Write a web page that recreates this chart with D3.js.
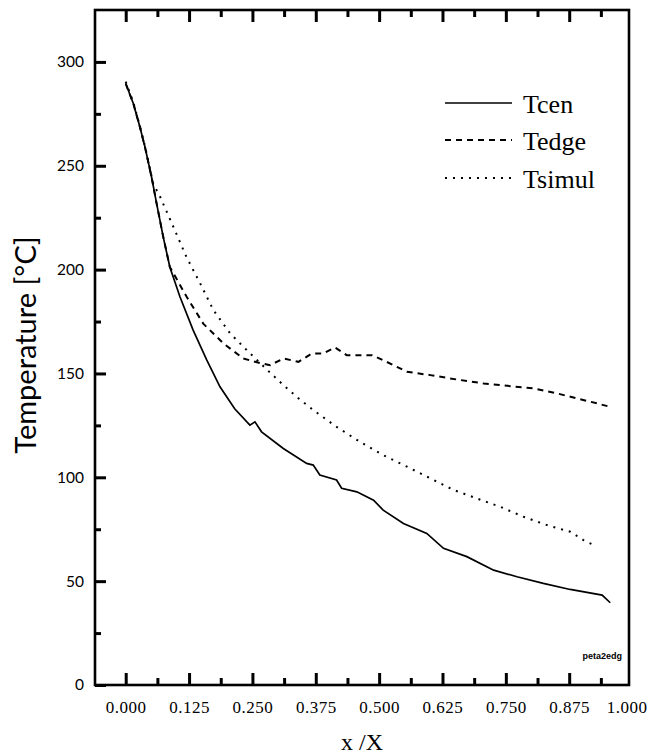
<!DOCTYPE html>
<html>
<head>
<meta charset="utf-8">
<script src="https://cdn.jsdelivr.net/npm/d3@7"></script>
<style>
  html, body { margin: 0; padding: 0; background: #fff; }
  svg { display: block; }
</style>
</head>
<body>
<svg id="chart" width="649" height="755" xmlns="http://www.w3.org/2000/svg"></svg>
<script>
// ---- data ----
const xTicks = [0, 0.125, 0.25, 0.375, 0.5, 0.625, 0.75, 0.875, 1.0];
const xTickLabels = ["0.000", "0.125", "0.250", "0.375", "0.500", "0.625", "0.750", "0.875", "1.000"];
const xMinorTicks = [0.0625, 0.1875, 0.3125, 0.4375, 0.5625, 0.6875, 0.8125, 0.9375];
const yTicks = [0, 50, 100, 150, 200, 250, 300];
const yMinorTicks = [25, 75, 125, 175, 225, 275];

const seriesNames = ["Tcen", "Tedge", "Tsimul"];

const xCen = [0, 0.015, 0.028, 0.038, 0.051, 0.061, 0.074, 0.087, 0.107, 0.133, 0.160, 0.186, 0.215, 0.245, 0.255, 0.268, 0.311, 0.357, 0.370, 0.383, 0.416, 0.426, 0.456, 0.489, 0.508, 0.548, 0.594, 0.627, 0.673, 0.726, 0.772, 0.824, 0.877, 0.940, 0.956];
const tCen = [289.6, 280, 268.7, 259, 244.6, 231.8, 215.8, 201.3, 186.9, 170.9, 156.4, 143.6, 133, 125.1, 126.7, 121.9, 113.9, 106.7, 105.9, 101.1, 98.7, 94.7, 93, 89, 84.2, 77.8, 73, 65.8, 61.8, 55.3, 52.1, 48.9, 46, 43.3, 39.6];

const xEdge = [0, 0.015, 0.028, 0.038, 0.051, 0.061, 0.074, 0.087, 0.120, 0.153, 0.193, 0.232, 0.265, 0.285, 0.311, 0.341, 0.367, 0.390, 0.413, 0.436, 0.462, 0.486, 0.508, 0.535, 0.555, 0.601, 0.653, 0.706, 0.759, 0.805, 0.851, 0.890, 0.930, 0.959];
const tEdge = [289.6, 280, 268.7, 259, 244.6, 231.8, 215.8, 201.3, 187, 174, 164.4, 157.2, 155, 154, 157.2, 155.6, 159.6, 159.6, 162.5, 158.8, 158.8, 158.8, 156.4, 153.2, 150.8, 149.2, 147.1, 145.2, 143.9, 142.8, 140.4, 138, 135.6, 133.7];

const xSim = [0, 0.015, 0.028, 0.038, 0.054, 0.068, 0.094, 0.120, 0.147, 0.173, 0.206, 0.239, 0.278, 0.311, 0.341, 0.370, 0.416, 0.462, 0.508, 0.555, 0.601, 0.647, 0.693, 0.739, 0.785, 0.831, 0.877, 0.903, 0.923];
const tSim = [290.5, 280.5, 269, 259.5, 241.6, 235, 220.6, 206, 193.3, 180.5, 169.3, 161.2, 152, 144.4, 138, 132.4, 124.3, 117.1, 110.7, 105.1, 99.5, 93.9, 89.8, 85.8, 81, 77, 73.8, 69.8, 67.4];

// ---- layout ----
const svg = d3.select("#chart");
const L = 95, R = 629, T = 10, B = 685;
const x = d3.scaleLinear().domain([-0.0606, 0.993]).range([L, R]);
const y = d3.scaleLinear().domain([0, 325]).range([B, T]);

const ink = "#000";
const serif = "'Liberation Serif', 'Times New Roman', serif";
const sans = "Lato, 'Open Sans', sans-serif";

// frame
svg.append("rect").attr("x", L).attr("y", T).attr("width", R - L).attr("height", B - T)
  .attr("fill", "none").attr("stroke", ink).attr("stroke-width", 2.6);

// axes: inward ticks, labels on bottom and left
function clean(g) {
  g.select(".domain").remove();
  g.selectAll(".tick line").attr("stroke", ink).attr("stroke-width", 3);
  return g;
}
const majX = xTicks.filter(v => v < 0.99);
const gx = clean(svg.append("g").attr("transform", `translate(0,${B})`)
  .call(d3.axisBottom(x).tickValues(xTicks).tickSize(-12).tickPadding(16)
    .tickFormat((d, i) => xTickLabels[i])));
gx.selectAll(".tick").filter(d => d > 0.99).select("line").remove();
gx.selectAll("text").attr("font-family", serif).attr("font-size", 17).attr("fill", ink)
  .attr("letter-spacing", 0.5);
gx.selectAll("text").filter(d => d === 1.0).attr("text-anchor", "end").attr("x", 647 - x(1.0));
clean(svg.append("g").attr("transform", `translate(0,${B})`)
  .call(d3.axisBottom(x).tickValues(xMinorTicks).tickSize(-7).tickFormat(() => "")));
clean(svg.append("g").attr("transform", `translate(0,${T})`)
  .call(d3.axisTop(x).tickValues(majX).tickSize(-12).tickFormat(() => "")));
clean(svg.append("g").attr("transform", `translate(0,${T})`)
  .call(d3.axisTop(x).tickValues(xMinorTicks).tickSize(-7).tickFormat(() => "")));

const gy = clean(svg.append("g").attr("transform", `translate(${L},0)`)
  .call(d3.axisLeft(y).tickValues(yTicks).tickSize(-11).tickPadding(11).tickFormat(d3.format("d"))));
gy.selectAll("text").attr("font-family", sans).attr("font-size", 15.5).attr("fill", ink);
clean(svg.append("g").attr("transform", `translate(${L},0)`)
  .call(d3.axisLeft(y).tickValues(yMinorTicks).tickSize(-6).tickFormat(() => "")));

// axis titles
svg.append("text").attr("x", (L + R) / 2).attr("y", 750).attr("text-anchor", "middle")
  .attr("font-family", serif).attr("font-size", 24).attr("fill", ink).text("x /X");
svg.append("text").attr("transform", "translate(36,345) rotate(-90)").attr("text-anchor", "middle")
  .attr("font-family", sans).attr("font-size", 29).attr("fill", ink).text("Temperature [°C]");

// series
const styles = [
  { dash: null, width: 1.7 },
  { dash: "6,5", width: 2 },
  { dash: "2,6", width: 2 }
];
const seriesData = [
  d3.zip(xCen, tCen),
  d3.zip(xEdge, tEdge),
  d3.zip(xSim, tSim)
];
const line = d3.line().x(d => x(d[0])).y(d => y(d[1])).curve(d3.curveLinear);
seriesData.forEach((data, i) => {
  svg.append("path").datum(data).attr("d", line)
    .attr("fill", "none").attr("stroke", ink).attr("stroke-width", styles[i].width)
    .attr("stroke-dasharray", styles[i].dash);
});

// legend
const legY = [103, 140, 178];
seriesNames.forEach((name, i) => {
  svg.append("line").attr("x1", 445).attr("x2", 512).attr("y1", legY[i]).attr("y2", legY[i])
    .attr("stroke", ink).attr("stroke-width", styles[i].width).attr("stroke-dasharray", styles[i].dash);
  svg.append("text").attr("x", 523).attr("y", legY[i] + 10)
    .attr("font-family", serif).attr("font-size", 26).attr("fill", ink).text(name);
});

// small label
svg.append("text").attr("x", 622).attr("y", 659).attr("text-anchor", "end")
  .attr("font-family", "'Liberation Sans', Arial, sans-serif").attr("font-weight", "bold")
  .attr("font-size", 9).attr("fill", ink).text("peta2edg");
</script>
</body>
</html>
